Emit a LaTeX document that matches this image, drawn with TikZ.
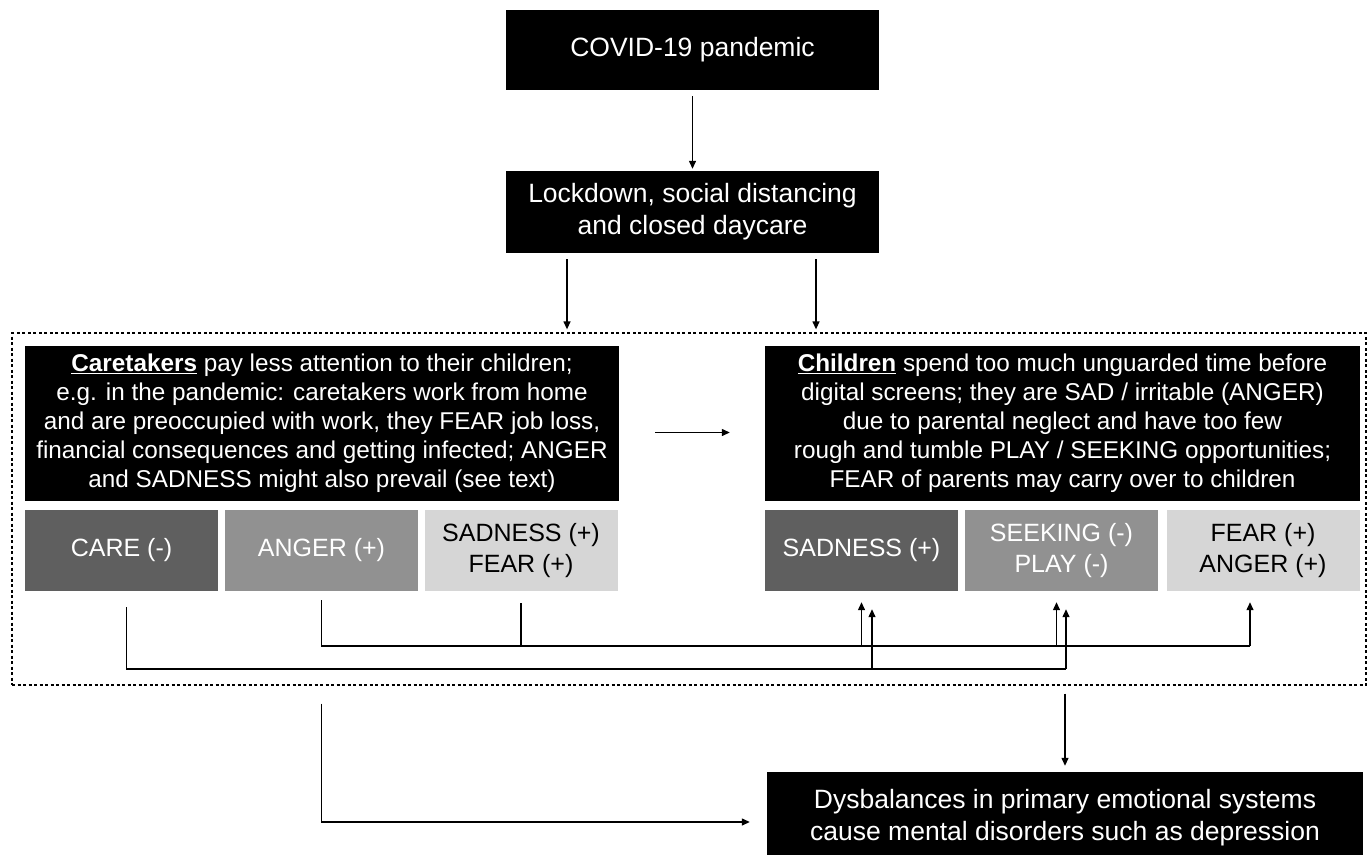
\documentclass[tikz,border=0pt]{standalone}
\usepackage{fontspec}
\setmainfont{Liberation Sans}
\usetikzlibrary{arrows.meta}

\definecolor{emogreydark}{HTML}{5F5F5F}
\definecolor{emogreymid}{HTML}{919191}
\definecolor{emogreylight}{HTML}{D6D6D6}

\tikzset{
  blackbox/.style={fill=black,text=white,inner sep=0pt,align=center,
    font=\fontsize{26.5}{32}\selectfont},
  textbox/.style={fill=black,text=white,inner sep=0pt,align=center,
    minimum width=595pt,minimum height=155pt,font=\fontsize{24.3}{29}\selectfont},
  emo/.style={inner sep=0pt,align=center,minimum width=193pt,minimum height=81pt,
    font=\fontsize{25}{31}\selectfont},
  emodark/.style={fill=emogreydark,text=white},
  emomid/.style={fill=emogreymid,text=white},
  emolight/.style={fill=emogreylight,text=black},
  line/.style={line width=1.3pt},
  arr/.style={line width=1.3pt,-{Triangle[length=8pt,width=7pt]},shorten >=2pt},
}

\begin{document}
\begin{tikzpicture}[x=1pt,y=-1pt]
    \useasboundingbox[fill=white] (0,0) rectangle (1370,854);
    % top of the chain
    \node[blackbox,minimum width=373pt,minimum height=80pt] (covid) at (692.5,50) {COVID-19 pandemic};
    \node[blackbox,minimum width=373pt,minimum height=82pt] (lock) at (692.5,212)
      {Lockdown, social distancing\\and closed daycare};
    \node[draw,line width=1.3pt,dash pattern=on 3pt off 2.5pt,minimum width=1354pt,
      minimum height=352pt] (frame) at (689,509) {};
    \draw[arr,shorten <=6pt] (covid) -- (lock);
    \draw[arr,shorten >=3pt] ([xshift=-125.5pt,yshift=-6pt]lock.south) -- ([xshift=-125.5pt]lock.south |- frame.north);
    \draw[arr,shorten >=3pt] ([xshift=123.5pt,yshift=-6pt]lock.south) -- ([xshift=123.5pt]lock.south |- frame.north);
    % caretakers and children
    \node[textbox,minimum width=594pt] (carers) at (322,423)
      {\underline{\textbf{Caretakers}} pay less attention to their children;\\
       e.g. in the pandemic: caretakers work from home\\
       and are preoccupied with work, they FEAR job loss,\\
       financial consequences and getting infected; ANGER\\
       and SADNESS might also prevail (see text)};
    \node[textbox] (kids) at (1062.5,423)
      {\underline{\textbf{Children}} spend too much unguarded time before\\
       digital screens; they are SAD / irritable (ANGER)\\
       due to parental neglect and have too few\\
       rough and tumble PLAY / SEEKING opportunities;\\
       FEAR of parents may carry over to children};
    \draw[arr] ([shift={(36pt,-9.5pt)}]carers.east) -- ([shift={(-33pt,-9.5pt)}]kids.west);
    % emotional systems
    \foreach \nm/\x/\shade/\txt in {care/121.5/emodark/{CARE (-)},
        anger/321.5/emomid/{ANGER (+)},
        lsad/521/emolight/{SADNESS (+)\\FEAR (+)},
        rsad/861.5/emodark/{SADNESS (+)},
        seek/1061.5/emomid/{SEEKING (-)\\PLAY (-)},
        rfear/1263/emolight/{FEAR (+)\\ANGER (+)}}
    \node[emo,\shade] (\nm) at (\x,550.5) {\txt};
    % upper bus
    \coordinate (busone) at (1250,646);
    \draw[line] ([yshift=-9pt]anger.south) |- (busone);
    \draw[line] ([yshift=-12pt]lsad.south) -- (lsad.south |- busone);
    \draw[arr] (busone) -- ([xshift=-13pt,yshift=-9pt]rfear.south);
    \draw[arr] (rsad.south |- busone) -- ([yshift=-9pt]rsad.south);
    \draw[arr] ([xshift=-5pt]seek.south |- busone) -- ([xshift=-5pt,yshift=-9pt]seek.south);
    % lower bus
    \coordinate (bustwo) at (1066,669);
    \draw[line] ([xshift=5pt,yshift=-16pt]care.south) |- (bustwo);
    \draw[arr] (bustwo) -- ([xshift=4.5pt,yshift=-16pt]seek.south);
    \draw[arr] ([xshift=10.5pt]rsad.south |- bustwo) -- ([xshift=10.5pt,yshift=-16pt]rsad.south);
    % outcome
    \node[blackbox,minimum width=596pt,minimum height=92pt] (dys) at (1065,818)
      {Dysbalances in primary emotional systems\\cause mental disorders such as depression};
    \draw[arr,shorten >=17pt] (anger.south |- frame.south) ++(0,18) |- ([yshift=-4pt]dys.west);
    \draw[arr,shorten >=6pt] (dys.north |- frame.south) ++(0,8) -- (dys.north);
\end{tikzpicture}
\end{document}
